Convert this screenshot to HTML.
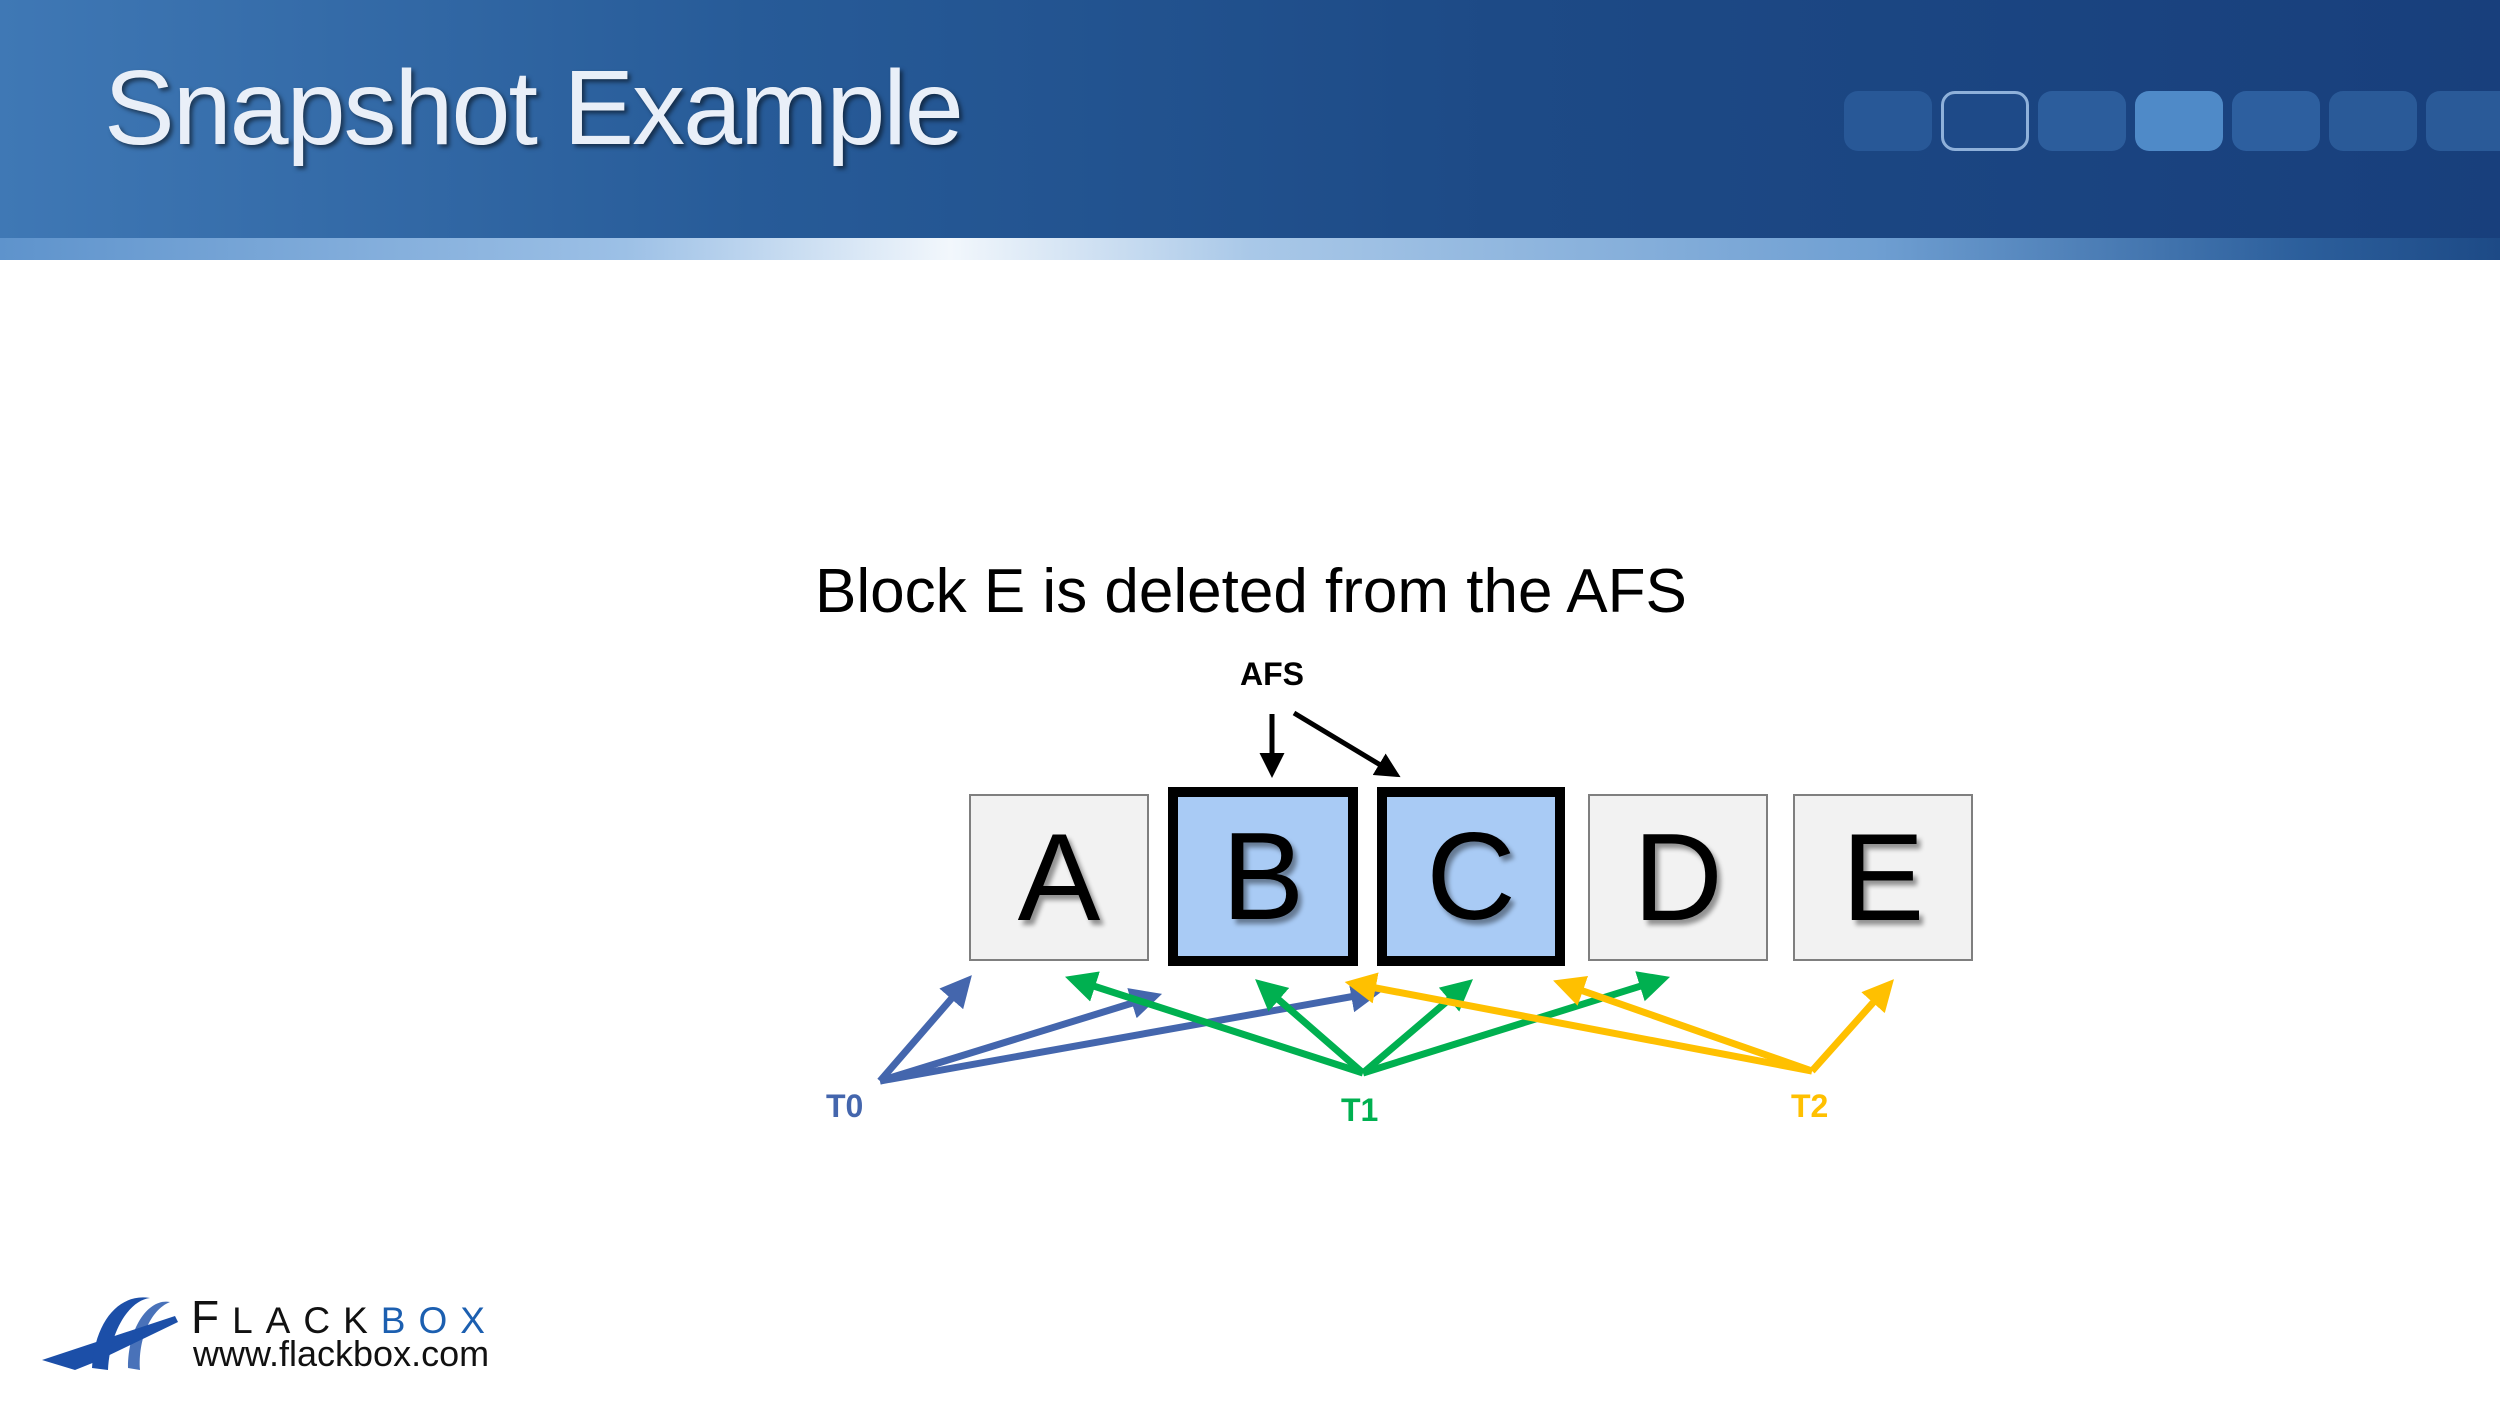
<!DOCTYPE html>
<html><head><meta charset="utf-8"><style>
body{margin:0;width:2500px;height:1406px;background:#fff;position:relative;overflow:hidden;font-family:"Liberation Sans",sans-serif}
.hdr{position:absolute;left:0;top:0;width:2500px;height:245px;background:linear-gradient(90deg,#3f78b5 0%,#275b98 30%,#1d4a86 60%,#183f7c 100%)}
.band{position:absolute;left:0;top:238px;width:2500px;height:22px;background:linear-gradient(90deg,#5e93cc 0%,#9cc0e6 25%,#f2f7fc 38%,#a9c8e8 50%,#6f9fd2 75%,#2c5f9c 92%,#1d4a86 100%)}
.title{position:absolute;left:104px;top:48px;font-size:106px;color:#e9eff8;text-shadow:3px 3px 4px rgba(0,0,0,.5);letter-spacing:-2px}
.pill{position:absolute;top:91px;width:88px;height:60px;border-radius:14px;background:#2c5d9c}
.box{position:absolute;box-sizing:border-box;background:#f2f2f2;border:2px solid #7f7f7f;display:flex;align-items:center;justify-content:center;font-size:124px;color:#000;text-shadow:4px 5px 5px rgba(0,0,0,.4)}
.sel{background:#a9cbf5;border:10px solid #000}
.t{position:absolute;font-weight:bold;font-size:32px}
</style></head><body>
<div class="hdr"></div><div class="band"></div>
<div class="title">Snapshot Example</div>
<div class="pill" style="left:1844px;opacity:.8"></div>
<div class="pill" style="left:1941px;background:#1e4a88;border:3px solid #8fb1da;box-sizing:border-box"></div>
<div class="pill" style="left:2038px"></div>
<div class="pill" style="left:2135px;background:#4f8ac8"></div>
<div class="pill" style="left:2232px;background:#2d5f9f"></div>
<div class="pill" style="left:2329px;background:#2a5a98"></div>
<div class="pill" style="left:2426px;background:#2a5a98"></div>

<div style="position:absolute;left:815px;top:556px;font-size:62px;color:#000;white-space:nowrap">Block E is deleted from the AFS</div>
<div class="t" style="left:1240px;top:656px;color:#000">AFS</div>

<div class="box" style="left:969px;top:794px;width:180px;height:167px">A</div>
<div class="box sel" style="left:1168px;top:787px;width:190px;height:179px">B</div>
<div class="box sel" style="left:1377px;top:787px;width:188px;height:179px">C</div>
<div class="box" style="left:1588px;top:794px;width:180px;height:167px">D</div>
<div class="box" style="left:1793px;top:794px;width:180px;height:167px">E</div>

<svg width="2500" height="1406" style="position:absolute;left:0;top:0">
<defs>
<marker id="mk" markerWidth="5" markerHeight="5" refX="3" refY="2.5" orient="auto"><path d="M0,0L5,2.5L0,5z" fill="#000"/></marker>
<marker id="mb" markerWidth="4.5" markerHeight="4.5" refX="3" refY="2.25" orient="auto"><path d="M0,0L4.5,2.25L0,4.5z" fill="#4466ad"/></marker>
<marker id="mg" markerWidth="4.5" markerHeight="4.5" refX="3" refY="2.25" orient="auto"><path d="M0,0L4.5,2.25L0,4.5z" fill="#00b050"/></marker>
<marker id="my" markerWidth="4.5" markerHeight="4.5" refX="3" refY="2.25" orient="auto"><path d="M0,0L4.5,2.25L0,4.5z" fill="#ffc000"/></marker>
</defs>
<g stroke="#000" stroke-width="5" marker-end="url(#mk)">
<line x1="1272" y1="714" x2="1272" y2="768"/>
<line x1="1294" y1="713" x2="1392" y2="772"/>
</g>
<g stroke="#4466ad" stroke-width="7" marker-end="url(#mb)">
<line x1="880" y1="1081" x2="965" y2="983"/>
<line x1="880" y1="1081" x2="1152" y2="997"/>
<line x1="880" y1="1081" x2="1372" y2="993"/>
</g>
<g stroke="#00b050" stroke-width="7" marker-end="url(#mg)">
<line x1="1363" y1="1073" x2="1075" y2="980"/>
<line x1="1363" y1="1073" x2="1263" y2="986"/>
<line x1="1363" y1="1073" x2="1465" y2="986"/>
<line x1="1363" y1="1073" x2="1660" y2="980"/>
</g>
<g stroke="#ffc000" stroke-width="7" marker-end="url(#my)">
<line x1="1812" y1="1071" x2="1355" y2="984"/>
<line x1="1812" y1="1071" x2="1563" y2="984"/>
<line x1="1812" y1="1071" x2="1887" y2="987"/>
</g>
<g fill="#1c4fa8">
<path d="M42,1360 L175,1316 L178,1322 L95,1362 L75,1370 Z"/>
<path d="M92,1368 C95,1320 120,1293 150,1298 C130,1300 110,1330 108,1370 Z"/>
<path d="M128,1368 C128,1325 150,1298 170,1302 C150,1310 138,1340 140,1370 Z" opacity=".8"/>
</g>
</svg>
<div class="t" style="left:826px;top:1088px;color:#4466ad">T0</div>
<div class="t" style="left:1341px;top:1092px;color:#00b050">T1</div>
<div class="t" style="left:1791px;top:1088px;color:#ffc000">T2</div>

<div style="position:absolute;left:191px;top:1290px;font-size:46px;letter-spacing:13px;color:#111;white-space:nowrap">F<span style="font-size:37px">LACK</span><span style="color:#1c5fb0;font-size:37px">BOX</span></div>
<div style="position:absolute;left:193px;top:1333px;font-size:36px;color:#111">www.flackbox.com</div>
</body></html>
